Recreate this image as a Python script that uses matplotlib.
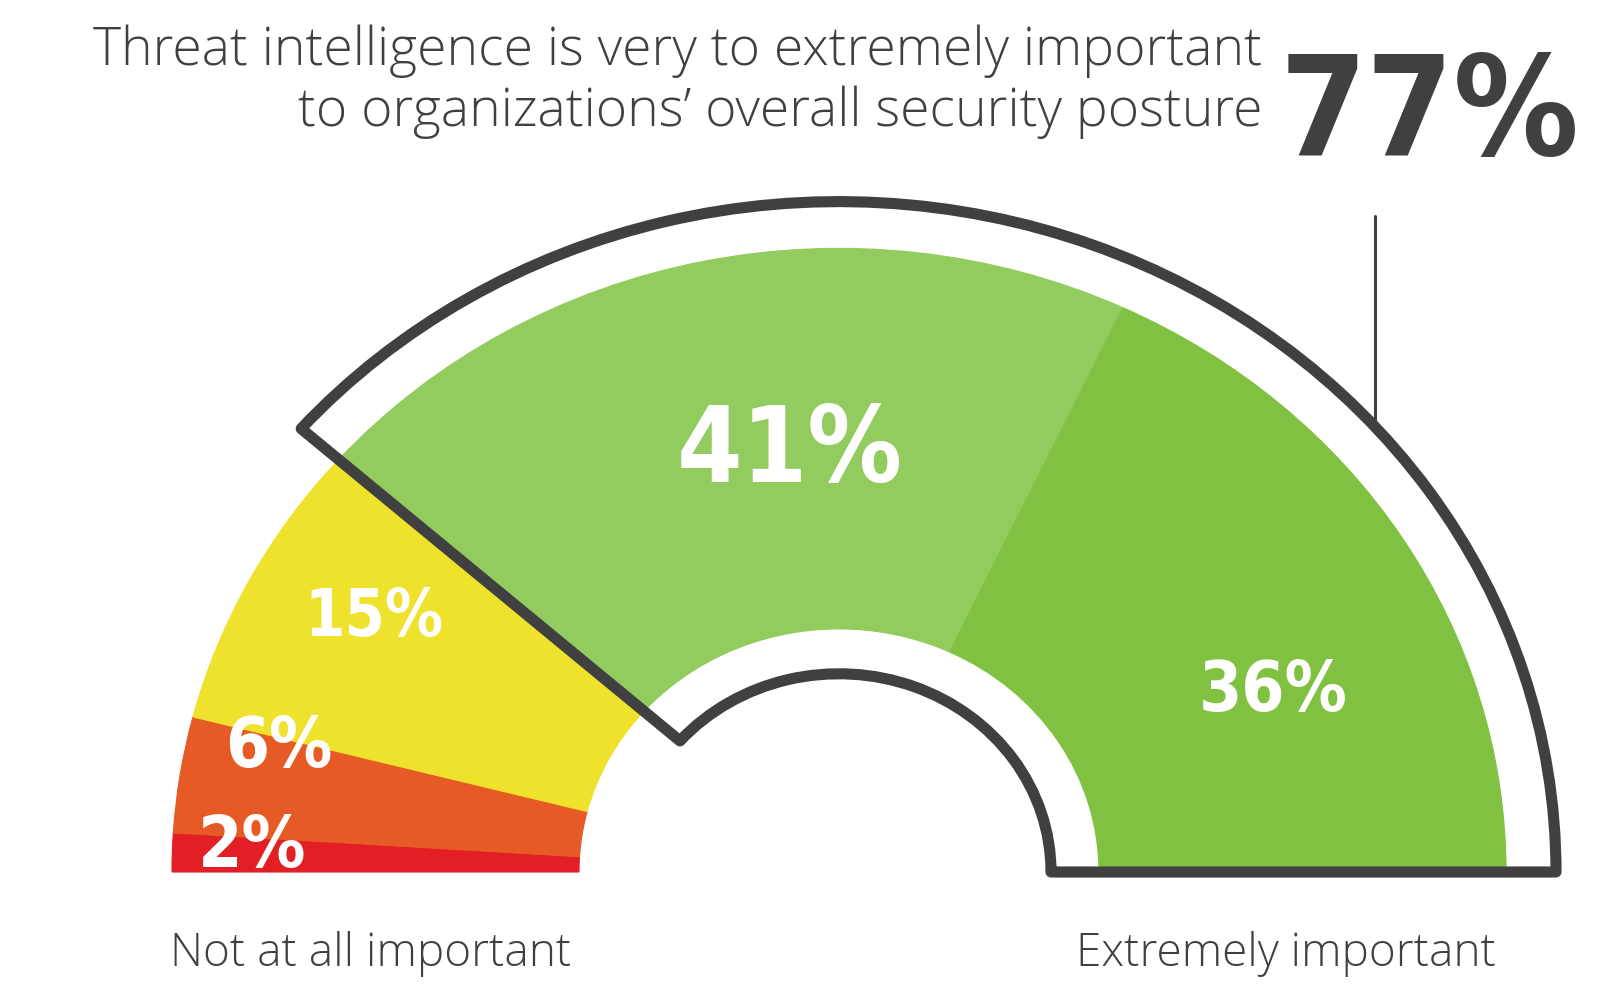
import matplotlib
matplotlib.use('Agg')
import matplotlib.pyplot as plt
from matplotlib import font_manager as fm
import numpy as np
from matplotlib.patches import Wedge

# ------------------------------------------------------------------ #
#                       data                      #
# ------------------------------------------------------------------ #

levels = ['Not at all important', 'Slightly', 'Moderately', 'Very', 'Extremely important']
shares = [2, 6, 15, 41, 36]
colours = ['#E31F26', '#E65A26', '#EEE22C', '#92CB5E', '#80C142']
headline = 77          # very + extremely important
title_lines = ['Threat intelligence is very to extremely important',
               'to organizations\u2019 overall security posture']

# ------------------------------------------------------------------ #
#                              layout                                #
# ------------------------------------------------------------------ #

W, H = 1600, 998
SQ = 0.935                      # the gauge is a bit squashed vertically
DARK = '#404040'
cx, cy_px = 839, 872            # gauge centre in pixels (from top-left)
R_OUT, R_IN = 667, 260          # coloured ring
R_O, R_I = 717, 212             # outline round the "important" part


def px(x, y):
    # pixel position (from top-left) -> data coordinates
    return x, (H - y) / SQ


def condensed_bold():
    # look for a narrow / condensed bold face, else plain DejaVu bold
    best = None
    for f in fm.fontManager.ttflist:
        path = f.fname.lower()
        name = f.name.lower()
        narrow = ('condensed' in str(f.stretch) or 'narrow' in name or 'condensed' in name
                  or 'condensed' in path or 'narrow' in path)
        w = f.weight if isinstance(f.weight, int) else 700 if f.weight == 'bold' else 400
        if not narrow or f.style != 'normal' or 'italic' in path or 'oblique' in path:
            continue
        if w < 600:
            continue
        key = (abs(w - 700), 'semi' in str(f.stretch) or 'semi' in path)
        if best is None or key < best[0]:
            best = (key, f.fname)
    if best is None:
        return fm.FontProperties(family='DejaVu Sans', weight='bold')
    return fm.FontProperties(fname=best[1])


fig = plt.figure(figsize=(W / 100, H / 100), dpi=100)
ax = fig.add_axes([0, 0, 1, 1])
ax.set_xlim(0, W)
ax.set_ylim(0, H / SQ)
ax.axis('off')
renderer = fig.canvas.get_renderer()

centre = px(cx, cy_px)

# coloured ring, filled from the left (180 deg) clockwise
theta = 180.0
for share, col in zip(shares, colours):
    t1 = theta - share * 1.8
    ax.add_patch(Wedge(centre, R_OUT, t1, theta, width=R_OUT - R_IN,
                       facecolor=col, edgecolor=col, lw=0.8))
    theta = t1

# dark outline round the top two answers
top_angle = (shares[-1] + shares[-2]) * 1.8
ax.add_patch(Wedge(centre, R_O, 0, top_angle, width=R_O - R_I, fill=False,
                   edgecolor=DARK, lw=8, joinstyle='round', capstyle='round'))

# thin leader line from the outline up to the 77%
lx = 1375
ax.plot([lx, lx], [px(lx, 216)[1], centre[1] + np.sqrt(R_O**2 - (lx - cx)**2)],
        color=DARK, lw=2.2, solid_capstyle='round')

# ------------------------------------------------------------------ #
#                               text                                 #
# ------------------------------------------------------------------ #

cond = condensed_bold()
light = ['Open Sans', 'DejaVu Sans']


def fitted(x, y, s, width, cap, colour, slack=1.22):
    # big numbers: as tall as the reference unless that makes them far too wide
    t = ax.text(*px(x, y), s, ha='center', va='baseline', fontsize=100,
                color=colour, fontproperties=cond)
    wpx = t.get_window_extent(renderer).width
    t.set_fontsize(min(cap, 100 * width * slack / wpx))
    return t


for i, line in enumerate(title_lines):
    ax.text(*px(1262, 65 + 61 * i), line, ha='right', va='baseline',
            fontsize=38.5, color=DARK, family=light, fontweight='light')

fitted(1430, 155, f'{headline}%', 240, 124, DARK, slack=1.25)

# (centre x, baseline y, width, cap height) of each number in the ring
label_box = [(252, 867, 89, 56), (279, 767, 88, 56), (374, 636, 114, 60),
             (790, 482, 185, 94), (1273, 711, 122, 58)]
for share, (x, y, w, c) in zip(shares, label_box):
    fitted(x, y, f'{share}%', w, c, 'white')

ax.text(*px(371, 966), levels[0], ha='center', va='baseline',
        fontsize=33, color=DARK, family=light, fontweight='light')
ax.text(*px(1286, 966), levels[-1], ha='center', va='baseline',
        fontsize=33, color=DARK, family=light, fontweight='light')

fig.savefig('out.png', dpi=100, facecolor='white')
plt.close()
